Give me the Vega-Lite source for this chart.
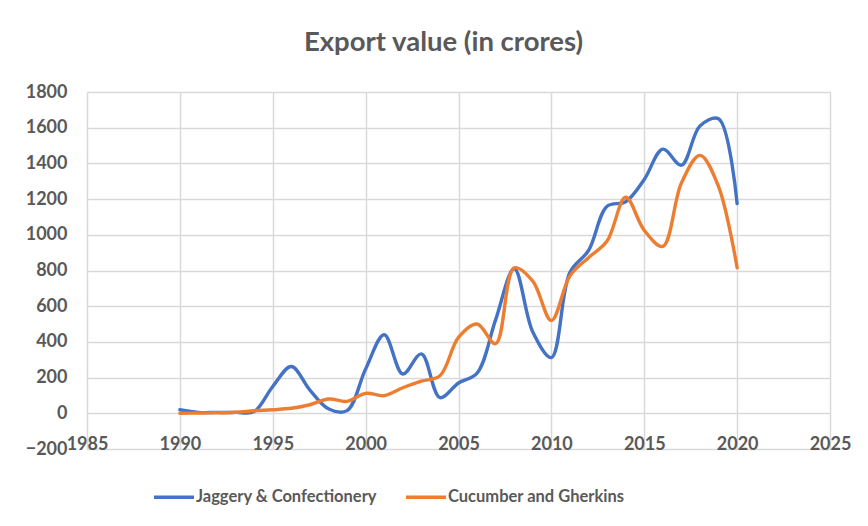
{
  "$schema": "https://vega.github.io/schema/vega-lite/v6.json",
  "autosize": "none",
  "width": 743,
  "height": 357,
  "padding": {"left": 87, "top": 92, "right": 38, "bottom": 77},
  "background": "white",
  "title": {
    "text": "Export value (in crores)",
    "font": "Lato",
    "fontSize": 27.5,
    "fontWeight": "bold",
    "color": "#595959",
    "anchor": "middle",
    "baseline": "alphabetic",
    "offset": 5,
    "dx": -15
  },
  "data": {
    "values": [
      {"year": 1990, "series": "Jaggery & Confectionery", "value": 20},
      {"year": 1991, "series": "Jaggery & Confectionery", "value": 5},
      {"year": 1992, "series": "Jaggery & Confectionery", "value": 5},
      {"year": 1993, "series": "Jaggery & Confectionery", "value": 5},
      {"year": 1994, "series": "Jaggery & Confectionery", "value": 10},
      {"year": 1995, "series": "Jaggery & Confectionery", "value": 150},
      {"year": 1996, "series": "Jaggery & Confectionery", "value": 262},
      {"year": 1997, "series": "Jaggery & Confectionery", "value": 130},
      {"year": 1998, "series": "Jaggery & Confectionery", "value": 25},
      {"year": 1999, "series": "Jaggery & Confectionery", "value": 15},
      {"year": 2000, "series": "Jaggery & Confectionery", "value": 248},
      {"year": 2001, "series": "Jaggery & Confectionery", "value": 440},
      {"year": 2002, "series": "Jaggery & Confectionery", "value": 220},
      {"year": 2003, "series": "Jaggery & Confectionery", "value": 333},
      {"year": 2004, "series": "Jaggery & Confectionery", "value": 88},
      {"year": 2005, "series": "Jaggery & Confectionery", "value": 170},
      {"year": 2006, "series": "Jaggery & Confectionery", "value": 225},
      {"year": 2007, "series": "Jaggery & Confectionery", "value": 525},
      {"year": 2008, "series": "Jaggery & Confectionery", "value": 810},
      {"year": 2009, "series": "Jaggery & Confectionery", "value": 455},
      {"year": 2010, "series": "Jaggery & Confectionery", "value": 312},
      {"year": 2011, "series": "Jaggery & Confectionery", "value": 790},
      {"year": 2012, "series": "Jaggery & Confectionery", "value": 912},
      {"year": 2013, "series": "Jaggery & Confectionery", "value": 1160},
      {"year": 2014, "series": "Jaggery & Confectionery", "value": 1185},
      {"year": 2015, "series": "Jaggery & Confectionery", "value": 1310},
      {"year": 2016, "series": "Jaggery & Confectionery", "value": 1480},
      {"year": 2017, "series": "Jaggery & Confectionery", "value": 1390},
      {"year": 2018, "series": "Jaggery & Confectionery", "value": 1610},
      {"year": 2019, "series": "Jaggery & Confectionery", "value": 1650},
      {"year": 2020, "series": "Jaggery & Confectionery", "value": 1175},
      {"year": 1990, "series": "Cucumber and Gherkins", "value": 0},
      {"year": 1991, "series": "Cucumber and Gherkins", "value": 2},
      {"year": 1992, "series": "Cucumber and Gherkins", "value": 3},
      {"year": 1993, "series": "Cucumber and Gherkins", "value": 6},
      {"year": 1994, "series": "Cucumber and Gherkins", "value": 14},
      {"year": 1995, "series": "Cucumber and Gherkins", "value": 20},
      {"year": 1996, "series": "Cucumber and Gherkins", "value": 28},
      {"year": 1997, "series": "Cucumber and Gherkins", "value": 48},
      {"year": 1998, "series": "Cucumber and Gherkins", "value": 80},
      {"year": 1999, "series": "Cucumber and Gherkins", "value": 67},
      {"year": 2000, "series": "Cucumber and Gherkins", "value": 112},
      {"year": 2001, "series": "Cucumber and Gherkins", "value": 99},
      {"year": 2002, "series": "Cucumber and Gherkins", "value": 143},
      {"year": 2003, "series": "Cucumber and Gherkins", "value": 180},
      {"year": 2004, "series": "Cucumber and Gherkins", "value": 210},
      {"year": 2005, "series": "Cucumber and Gherkins", "value": 425},
      {"year": 2006, "series": "Cucumber and Gherkins", "value": 500},
      {"year": 2007, "series": "Cucumber and Gherkins", "value": 390},
      {"year": 2008, "series": "Cucumber and Gherkins", "value": 815},
      {"year": 2009, "series": "Cucumber and Gherkins", "value": 740},
      {"year": 2010, "series": "Cucumber and Gherkins", "value": 520},
      {"year": 2011, "series": "Cucumber and Gherkins", "value": 770},
      {"year": 2012, "series": "Cucumber and Gherkins", "value": 872},
      {"year": 2013, "series": "Cucumber and Gherkins", "value": 965},
      {"year": 2014, "series": "Cucumber and Gherkins", "value": 1210},
      {"year": 2015, "series": "Cucumber and Gherkins", "value": 1025},
      {"year": 2016, "series": "Cucumber and Gherkins", "value": 935},
      {"year": 2017, "series": "Cucumber and Gherkins", "value": 1290},
      {"year": 2018, "series": "Cucumber and Gherkins", "value": 1445},
      {"year": 2019, "series": "Cucumber and Gherkins", "value": 1270},
      {"year": 2020, "series": "Cucumber and Gherkins", "value": 815}
    ]
  },
  "mark": {"type": "line", "interpolate": "catmull-rom", "strokeWidth": 3.4, "strokeCap": "round"},
  "encoding": {
    "x": {
      "field": "year",
      "type": "quantitative",
      "scale": {"domain": [1985, 2025], "nice": false, "zero": false},
      "axis": {
        "title": null,
        "values": [1985, 1990, 1995, 2000, 2005, 2010, 2015, 2020, 2025],
        "format": "d",
        "grid": true,
        "gridColor": "#d9d9d9",
        "gridWidth": 1.5,
        "domain": false,
        "ticks": false,
        "labelPadding": -14,
        "labelFont": "Lato",
        "labelFontSize": 18,
        "labelFontWeight": "bold",
        "labelColor": "#595959",
        "labelFlush": false,
        "labelOverlap": false
      }
    },
    "y": {
      "field": "value",
      "type": "quantitative",
      "scale": {"domain": [-200, 1800], "nice": false},
      "axis": {
        "title": null,
        "values": [-200, 0, 200, 400, 600, 800, 1000, 1200, 1400, 1600, 1800],
        "format": "d",
        "grid": true,
        "gridColor": "#d9d9d9",
        "gridWidth": 1.5,
        "domain": false,
        "ticks": false,
        "labelPadding": 20,
        "labelFont": "Lato",
        "labelFontSize": 18,
        "labelFontWeight": "bold",
        "labelColor": "#595959",
        "labelFlush": false,
        "labelOverlap": false
      }
    },
    "color": {
      "field": "series",
      "type": "nominal",
      "sort": ["Jaggery & Confectionery", "Cucumber and Gherkins"],
      "scale": {"domain": ["Jaggery & Confectionery", "Cucumber and Gherkins"], "range": ["#4472C4", "#ED7D31"]},
      "legend": {
        "title": null,
        "orient": "none",
        "direction": "horizontal",
        "legendX": 65,
        "legendY": 383,
        "symbolType": "stroke",
        "symbolSize": 1600,
        "symbolStrokeWidth": 3.5,
        "labelFont": "Lato",
        "labelFontSize": 16.5,
        "labelFontWeight": "bold",
        "labelColor": "#595959",
        "labelOffset": 0,
        "columnPadding": 22,
        "labelLimit": 400
      }
    }
  },
  "config": {"view": {"stroke": null}}
}
